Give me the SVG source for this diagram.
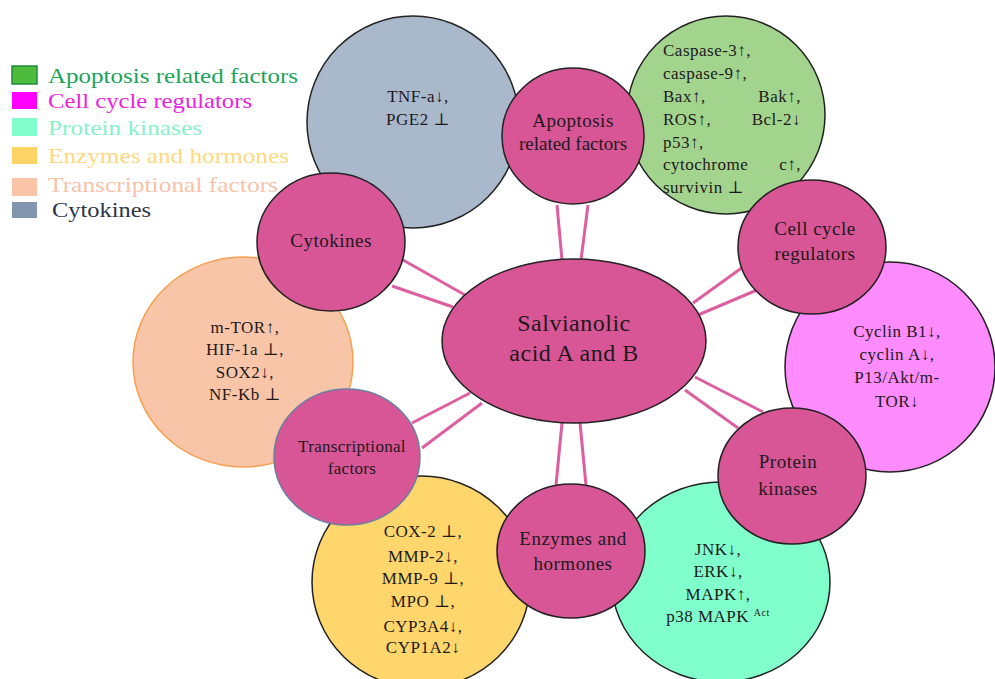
<svg xmlns="http://www.w3.org/2000/svg" width="995" height="679" viewBox="0 0 995 679">
<style>
.hub{fill:#d85596;stroke:#222;stroke-width:1.5}
.big{stroke:#222;stroke-width:1.5}
.lbl{font-family:"Liberation Serif","DejaVu Serif",serif;fill:#1e1a1c;text-anchor:middle}
.hubt{font-size:19px;letter-spacing:0.5px}
.det{font-size:17px;letter-spacing:0.5px}
.leg{font-family:"Liberation Serif","DejaVu Serif",serif;font-size:22px}
.con line{stroke:#dd5fa0;stroke-width:3}
</style>
<rect width="995" height="679" fill="#fff"/>
<g id="legend">
<rect x="12" y="66" width="25" height="18" fill="#4dbb3c" stroke="#1f8c3e" stroke-width="1.5"/>
<text class="leg" x="48" y="83" fill="#1aa35a" textLength="250" lengthAdjust="spacingAndGlyphs">Apoptosis related factors</text>
<rect x="12" y="92" width="25" height="17" fill="#ff00ff"/>
<text class="leg" x="48" y="108" fill="#ee22dd" textLength="204" lengthAdjust="spacingAndGlyphs">Cell cycle regulators</text>
<rect x="12" y="118" width="25" height="18" fill="#80ffcc"/>
<text class="leg" x="48" y="135" fill="#86f2cb" textLength="154" lengthAdjust="spacingAndGlyphs">Protein kinases</text>
<rect x="12" y="147" width="25" height="17" fill="#ffd466"/>
<text class="leg" x="48" y="163" fill="#ffd880" textLength="241" lengthAdjust="spacingAndGlyphs">Enzymes and hormones</text>
<rect x="12" y="178" width="25" height="18" fill="#f9c4a8"/>
<text class="leg" x="48" y="192" fill="#f7c3a9" textLength="230" lengthAdjust="spacingAndGlyphs">Transcriptional factors</text>
<rect x="12" y="202" width="25" height="16" fill="#8296ae"/>
<text class="leg" x="52" y="217" fill="#2e3548" textLength="99" lengthAdjust="spacingAndGlyphs">Cytokines</text>
</g>
<g id="connectors" class="con">
<line x1="557" y1="205" x2="562" y2="260"/>
<line x1="588" y1="205" x2="581" y2="260"/>
<line x1="403" y1="260" x2="465" y2="295"/>
<line x1="392" y1="286" x2="453" y2="307"/>
<line x1="693" y1="303" x2="743" y2="267"/>
<line x1="698" y1="315" x2="757" y2="290"/>
<line x1="695" y1="377" x2="763" y2="412"/>
<line x1="685" y1="390" x2="738" y2="428"/>
<line x1="562" y1="423" x2="556" y2="485"/>
<line x1="580" y1="423" x2="586" y2="485"/>
<line x1="470" y1="393" x2="412" y2="423"/>
<line x1="482" y1="403" x2="422" y2="448"/>
</g>
<g id="cytokines-detail">
<circle class="big" cx="413" cy="122" r="106" fill="#a9b8cb"/>
<text class="lbl det" x="418" y="102">TNF-a↓,</text>
<text class="lbl det" x="418" y="125">PGE2 ⊥</text>
</g>
<g id="apoptosis-detail">
<circle class="big" cx="726" cy="115" r="99" fill="#a3d48d"/>
<g class="lbl det" style="text-anchor:start">
<text x="663" y="56">Caspase-3↑,</text>
<text x="663" y="79">caspase-9↑,</text>
<text x="663" y="102">Bax↑,</text><text x="801" y="102" style="text-anchor:end">Bak↑,</text>
<text x="663" y="125">ROS↑,</text><text x="801" y="125" style="text-anchor:end">Bcl-2↓</text>
<text x="663" y="148">p53↑,</text>
<text x="663" y="170">cytochrome</text><text x="801" y="170" style="text-anchor:end">c↑,</text>
<text x="663" y="193">survivin ⊥</text>
</g>
</g>
<g id="cellcycle-detail">
<circle class="big" cx="890" cy="367" r="105" fill="#ff8cff"/>
<text class="lbl det" x="897" y="337">Cyclin B1↓,</text>
<text class="lbl det" x="897" y="360">cyclin A↓,</text>
<text class="lbl det" x="897" y="383">P13/Akt/m-</text>
<text class="lbl det" x="897" y="407">TOR↓</text>
</g>
<g id="kinases-detail">
<ellipse class="big" cx="721" cy="582" rx="109" ry="100" fill="#80ffcc"/>
<text class="lbl det" x="718" y="555">JNK↓,</text>
<text class="lbl det" x="718" y="577">ERK↓,</text>
<text class="lbl det" x="718" y="600">MAPK↑,</text>
<text class="lbl det" x="718" y="622">p38 MAPK <tspan font-size="10" dy="-6">Act</tspan></text>
</g>
<g id="enzymes-detail">
<ellipse class="big" cx="421" cy="582" rx="109" ry="106" fill="#ffd66b"/>
<text class="lbl det" x="423" y="537">COX-2 ⊥,</text>
<text class="lbl det" x="423" y="562">MMP-2↓,</text>
<text class="lbl det" x="423" y="584">MMP-9 ⊥,</text>
<text class="lbl det" x="423" y="607">MPO ⊥,</text>
<text class="lbl det" x="423" y="632">CYP3A4↓,</text>
<text class="lbl det" x="423" y="653">CYP1A2↓</text>
</g>
<g id="transcription-detail">
<ellipse cx="243" cy="362" rx="110" ry="105" fill="#f9c5a8" stroke="#f5a04e" stroke-width="1.5"/>
<text class="lbl det" x="245" y="333">m-TOR↑,</text>
<text class="lbl det" x="245" y="355">HIF-1a ⊥,</text>
<text class="lbl det" x="245" y="378">SOX2↓,</text>
<text class="lbl det" x="245" y="400">NF-Kb ⊥</text>
</g>
<g id="center">
<ellipse class="hub" cx="574" cy="341" rx="132" ry="82"/>
<text class="lbl" x="574" y="331" font-size="24" letter-spacing="0.5">Salvianolic</text>
<text class="lbl" x="574" y="361" font-size="24" letter-spacing="0.5">acid A and B</text>
</g>
<g id="apoptosis">
<ellipse class="hub" cx="573" cy="136" rx="71" ry="68"/>
<text class="lbl hubt" x="573" y="127">Apoptosis</text>
<text class="lbl hubt" x="573" y="150" style="letter-spacing:0">related factors</text>
</g>
<g id="cytokines">
<ellipse class="hub" cx="331" cy="242" rx="74" ry="69"/>
<text class="lbl hubt" x="331" y="247">Cytokines</text>
</g>
<g id="cellcycle">
<ellipse class="hub" cx="812" cy="247" rx="74" ry="67"/>
<text class="lbl hubt" x="815" y="235">Cell cycle</text>
<text class="lbl hubt" x="815" y="260">regulators</text>
</g>
<g id="kinases">
<ellipse class="hub" cx="792" cy="476" rx="74" ry="68"/>
<text class="lbl hubt" x="788" y="468">Protein</text>
<text class="lbl hubt" x="788" y="495">kinases</text>
</g>
<g id="enzymes">
<ellipse class="hub" cx="571" cy="551" rx="74" ry="67"/>
<text class="lbl hubt" x="573" y="545">Enzymes and</text>
<text class="lbl hubt" x="573" y="570">hormones</text>
</g>
<g id="transcription">
<ellipse cx="347" cy="457" rx="73" ry="68" fill="#d85596" stroke="#6b7fa3" stroke-width="1.5"/>
<text class="lbl" x="352" y="452" font-size="17" letter-spacing="0.3">Transcriptional</text>
<text class="lbl" x="352" y="474" font-size="17" letter-spacing="0.3">factors</text>
</g>
</svg>
